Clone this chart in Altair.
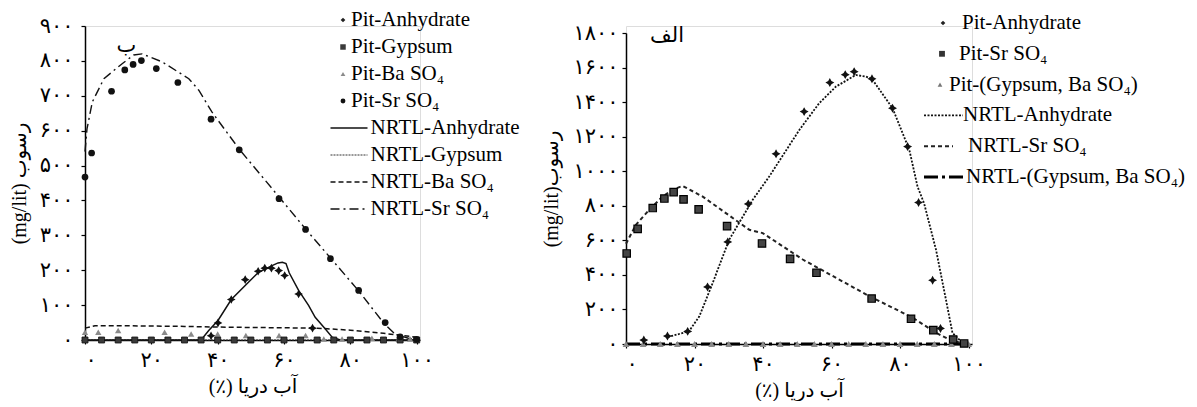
import altair as alt
import pandas as pd

# ---------------- Panel "ب" (left) ----------------
b_pit_anh_x = [38, 40.1, 44.1, 48.3, 52.2, 54.2, 56.2, 58.4, 60.2, 64.4, 68.6]
b_pit_anh_y = [12, 49, 116, 173, 197, 206, 206, 199, 185, 132, 34]

b_pit_gyp_x = [0, 5, 10, 15, 20, 25, 30, 35, 40, 45, 50, 55, 60, 65, 70, 75, 80, 85, 90, 95, 100]
b_pit_gyp_y = [0, 0, 0, 0, 0, 0, 0, 0, 0, 0, 0, 0, 0, 0, 0, 0, 0, 0, 0, 0, 0]

b_pit_ba_x = [0, 4, 10, 24, 32, 40, 48.5, 58.5, 66.5, 72, 77.5, 86.5, 94.5, 98]
b_pit_ba_y = [22, 22, 27, 22, 17, 17, 13, 13, 13, 3, 3, 5, 3, 3]

b_pit_sr_x = [0, 2, 8, 12, 14.5, 17, 21.5, 28, 38, 46.5, 58.5, 66.5, 74, 82.5, 90.5, 95, 100]
b_pit_sr_y = [467, 536, 713, 774, 790, 801, 778, 738, 633, 545, 405, 317, 233, 142, 50, 9, 2]

b_nrtl_anh_x = [0, 35, 37.3, 40.1, 44.1, 48.3, 52.3, 56.4, 58.2, 59.5, 60.6, 61.6, 64.4, 67.4, 69.4, 72.4, 74.5, 77, 100]
b_nrtl_anh_y = [0, 0, 27, 56, 116, 156, 194, 213, 221, 223, 219, 192, 142, 99, 65, 32, 8, 0, 0]

b_nrtl_gyp_x = [0, 100]
b_nrtl_gyp_y = [0, 0]

b_nrtl_ba_x = [0, 3, 10, 20, 30, 40, 50, 60, 70, 80, 90, 100]
b_nrtl_ba_y = [34, 41, 41, 40, 39, 37, 36, 35, 34, 28, 19, 8]

b_nrtl_sr_x = [0, 0.6, 2.2, 5.7, 11.2, 14.7, 17.2, 23.3, 31.3, 34.3, 38.3, 46.5, 58.5, 66.6, 74.2, 82.4, 90, 93.5, 97.5, 100]
b_nrtl_sr_y = [540, 605, 682, 749, 792, 817, 820, 797, 749, 716, 653, 547, 410, 317, 233, 142, 49, 17, 5, 2]

b_tag = ["ب"]
b_tag_x = [12.5]
b_tag_y = [842]

b_legend = ["Pit-Anhydrate", "Pit-Gypsum", "Pit-Ba SO₄", "Pit-Sr SO₄",
            "NRTL-Anhydrate", "NRTL-Gypsum", "NRTL-Ba SO₄", "NRTL-Sr SO₄"]

b_y_ticks = [0, 100, 200, 300, 400, 500, 600, 700, 800, 900]
b_y_labels = ["۰", "۱۰۰", "۲۰۰", "۳۰۰", "۴۰۰", "۵۰۰", "۶۰۰", "۷۰۰", "۸۰۰", "۹۰۰"]

# ---------------- Panel "الف" (right) ----------------
a_pit_anh_x = [5.2, 12.1, 18, 23.8, 29.7, 35.7, 43.8, 52, 59.5, 64, 66.6, 71.8, 77.8, 82.2, 85.4, 89.5, 91.8]
a_pit_anh_y = [23, 46, 73, 330, 591, 811, 1101, 1345, 1513, 1559, 1576, 1535, 1365, 1143, 819, 369, 90]

a_pit_sr_x = [0.2, 3.4, 7.8, 11.2, 13.9, 16.8, 21.2, 29.5, 39.7, 47.9, 55.6, 71.7, 83.2, 89.7, 95.5, 98.7]
a_pit_sr_y = [524, 666, 787, 842, 879, 837, 779, 682, 582, 493, 412, 263, 146, 80, 26, 3]

a_pit_gb_x = [0, 5, 10, 15, 20, 25, 30, 35, 40, 45, 50, 55, 60, 65, 70, 75, 80, 85, 90, 95, 100]
a_pit_gb_y = [0, 0, 0, 0, 0, 0, 0, 0, 0, 0, 0, 0, 0, 0, 0, 0, 0, 0, 0, 0, 0]

a_nrtl_anh_x = [12.2, 18.4, 21.4, 25.3, 30.1, 37.0, 41.8, 50.6, 56.4, 61.3, 67.1, 70.0, 71.8, 77.8, 82.7, 85.1, 87.0, 90.5, 93.4, 95.3, 98.3, 100]
a_nrtl_anh_y = [40, 74, 160, 353, 603, 835, 969, 1239, 1394, 1490, 1557, 1548, 1534, 1365, 1124, 911, 815, 545, 256, 64, 5, 0]

a_nrtl_sr_x = [0, 2.9, 6.8, 10.7, 13.6, 16.5, 22.4, 36, 39.9, 51.6, 71, 83.7, 90.5, 95.3, 100]
a_nrtl_sr_y = [580, 690, 777, 854, 893, 915, 853, 661, 642, 489, 277, 152, 65, 16, 0]

a_nrtl_gb_x = [0, 100]
a_nrtl_gb_y = [0, 0]

a_tag = ["الف"]
a_tag_x = [12]
a_tag_y = [1783]

a_legend = ["Pit-Anhydrate", "Pit-Sr SO₄", "Pit-(Gypsum, Ba SO₄)",
            "NRTL-Anhydrate", "NRTL-Sr SO₄", "NRTL-(Gypsum, Ba SO₄)"]

a_y_ticks = [0, 200, 400, 600, 800, 1000, 1200, 1400, 1600, 1800]
a_y_labels = ["۰", "۲۰۰", "۴۰۰", "۶۰۰", "۸۰۰", "۱۰۰۰", "۱۲۰۰", "۱۴۰۰", "۱۶۰۰", "۱۸۰۰"]

x_ticks = [0, 20, 40, 60, 80, 100]
x_labels = ["۰", "۲۰", "۴۰", "۶۰", "۸۰", "۱۰۰"]

# ---------------- styling ----------------
SERIF = "Liberation Serif, DejaVu Serif, DejaVu Sans"
FA = "DejaVu Sans"
STAR = "M0,-1L0.36,-0.36L1,0L0.36,0.36L0,1L-0.36,0.36L-1,0L-0.36,-0.36Z"


def label_expr(labels, step):
    arr = ",".join("'" + s + "'" for s in labels)
    return "[" + arr + "][round(datum.value/" + str(step) + ")]"


def axis_common(**kw):
    base = dict(grid=False, labelFont=FA, labelFontSize=21, labelColor="black",
                titleFont=SERIF, titleFontSize=20, titleFontWeight="normal",
                titleColor="black", domainColor="black", domainWidth=1.5,
                tickColor="black", tickSize=4, tickWidth=1.2)
    base.update(kw)
    return alt.Axis(**base)


def make_panel(xscale, yscale, xaxis, yaxis, lines, points, tag, legend_layers):
    X = alt.X("x:Q", scale=xscale, axis=xaxis)
    Y = alt.Y("y:Q", scale=yscale, axis=yaxis)
    layers = []
    for xs, ys, style in lines:
        df = pd.DataFrame({"x": xs, "y": ys})
        layers.append(alt.Chart(df).mark_line(**style).encode(x=X, y=Y))
    for xs, ys, style in points:
        df = pd.DataFrame({"x": xs, "y": ys})
        layers.append(alt.Chart(df).mark_point(filled=True, opacity=1, **style).encode(x=X, y=Y))
    t, tx, ty = tag
    df = pd.DataFrame({"x": tx, "y": ty, "t": t})
    layers.append(alt.Chart(df).mark_text(font=FA, fontSize=21, color="black").encode(x=X, y=Y, text="t:N"))
    data_layer = alt.layer(*layers)
    return alt.layer(data_layer, legend_layers).resolve_scale(y="independent")


def make_legend(labels, entries, row_range):
    n = len(labels)
    R = alt.Y("r:Q", scale=alt.Scale(domain=[0, n - 1], range=row_range), axis=None)
    layers = []
    for i, (lab, e) in enumerate(zip(labels, entries)):
        df = pd.DataFrame({"r": [i], "t": [lab]})
        base = alt.Chart(df)
        if e["kind"] == "pt":
            layers.append(base.mark_point(filled=True, opacity=1, **e["style"]).encode(x=alt.value(e["sx"]), y=R))
        else:
            layers.append(base.mark_rule(**e["style"]).encode(x=alt.value(e["x1"]), x2=alt.value(e["x2"]), y=R))
        layers.append(base.mark_text(align="left", baseline="middle", font=SERIF, fontSize=21,
                                     color="black").encode(x=alt.value(e["tx"]), y=R, text="t:N"))
    return alt.layer(*layers)


# ---------- left panel ----------
b_lines = [
    (b_nrtl_gyp_x, b_nrtl_gyp_y, dict(color="#333", strokeWidth=1, strokeDash=[2, 1])),
    (b_nrtl_ba_x, b_nrtl_ba_y, dict(color="#111", strokeWidth=1.5, strokeDash=[5, 3])),
    (b_nrtl_sr_x, b_nrtl_sr_y, dict(color="#111", strokeWidth=1.4, strokeDash=[9, 4, 2, 4])),
    (b_nrtl_anh_x, b_nrtl_anh_y, dict(color="#111", strokeWidth=1.5)),
]
b_points = [
    (b_pit_ba_x, b_pit_ba_y, dict(shape="triangle-up", size=40, color="#8a8a8a")),
    (b_pit_gyp_x, b_pit_gyp_y, dict(shape="square", size=36, color="#3a3a3a", stroke="#111", strokeWidth=0.8)),
    (b_pit_sr_x, b_pit_sr_y, dict(shape="circle", size=45, color="#111")),
    (b_pit_anh_x, b_pit_anh_y, dict(shape=STAR, size=75, color="#111")),
]
b_entries = [
    dict(kind="pt", sx=258, tx=266, style=dict(shape="diamond", size=22, color="#222")),
    dict(kind="pt", sx=258, tx=266, style=dict(shape="square", size=30, color="#3a3a3a")),
    dict(kind="pt", sx=258, tx=266, style=dict(shape="triangle-up", size=22, color="#8a8a8a")),
    dict(kind="pt", sx=258, tx=266, style=dict(shape="circle", size=24, color="#111")),
    dict(kind="ln", x1=245.5, x2=282.5, tx=285.5, style=dict(color="#111", strokeWidth=1.5)),
    dict(kind="ln", x1=245.5, x2=282.5, tx=285.5, style=dict(color="#333", strokeWidth=1, strokeDash=[2, 1])),
    dict(kind="ln", x1=245.5, x2=282.5, tx=285.5, style=dict(color="#111", strokeWidth=1.5, strokeDash=[5, 3])),
    dict(kind="ln", x1=245.5, x2=282.5, tx=285.5, style=dict(color="#111", strokeWidth=1.4, strokeDash=[9, 4, 2, 4])),
]

left = make_panel(
    alt.Scale(domain=[0, 101], nice=False),
    alt.Scale(domain=[0, 900], nice=False),
    axis_common(values=x_ticks, labelExpr=label_expr(x_labels, 20), title="(٪) آب دریا",
                labelPadding=5, titlePadding=6),
    axis_common(values=b_y_ticks, labelExpr=label_expr(b_y_labels, 100), title="(mg/lit) رسوب",
                labelPadding=8, titlePadding=10),
    b_lines, b_points, (b_tag, b_tag_x, b_tag_y),
    make_legend(b_legend, b_entries, [-6, 183]),
).properties(width=335, height=314)

# ---------- right panel ----------
a_lines = [
    (a_nrtl_gb_x, a_nrtl_gb_y, dict(color="#000", strokeWidth=3, strokeDash=[14, 4, 3, 4])),
    (a_nrtl_sr_x, a_nrtl_sr_y, dict(color="#222", strokeWidth=2, strokeDash=[4, 3])),
    (a_nrtl_anh_x, a_nrtl_anh_y, dict(color="#111", strokeWidth=1.8, strokeDash=[2, 1.5])),
]
a_points = [
    (a_pit_gb_x, a_pit_gb_y, dict(shape="triangle-up", size=45, color="#8a8a8a")),
    (a_pit_sr_x, a_pit_sr_y, dict(shape="square", size=55, color="#444", stroke="#000", strokeWidth=1.2)),
    (a_pit_anh_x, a_pit_anh_y, dict(shape=STAR, size=80, color="#111")),
]
a_entries = [
    dict(kind="pt", sx=317, tx=336, style=dict(shape="diamond", size=22, color="#222")),
    dict(kind="pt", sx=316, tx=333, style=dict(shape="square", size=34, color="#333")),
    dict(kind="pt", sx=314, tx=323, style=dict(shape="triangle-up", size=22, color="#777")),
    dict(kind="ln", x1=298, x2=337, tx=337, style=dict(color="#111", strokeWidth=1.8, strokeDash=[2, 1.5])),
    dict(kind="ln", x1=298, x2=327, tx=342, style=dict(color="#222", strokeWidth=2, strokeDash=[4, 3])),
    dict(kind="ln", x1=298, x2=337, tx=340, style=dict(color="#000", strokeWidth=3, strokeDash=[14, 4, 3, 4])),
]

right = make_panel(
    alt.Scale(domain=[0, 101], nice=False),
    alt.Scale(domain=[0, 1800], nice=False, range=[318, 7]),
    axis_common(values=x_ticks, labelExpr=label_expr(x_labels, 20), title="(٪) آب دریا",
                labelPadding=5, titlePadding=6),
    axis_common(values=a_y_ticks, labelExpr=label_expr(a_y_labels, 200), title="(mg/lit)رسوب",
                labelPadding=4, titlePadding=11),
    a_lines, a_points, (a_tag, a_tag_x, a_tag_y),
    make_legend(a_legend, a_entries, [-3, 151]),
).properties(width=346, height=318)

chart = alt.hconcat(left, right, spacing=20).properties(
    padding={"left": 0, "top": 0, "right": 0, "bottom": 0}
).configure_view(strokeWidth=0).configure(background="white")

chart.save("out.html", embed_options={"renderer": "svg", "actions": False})
